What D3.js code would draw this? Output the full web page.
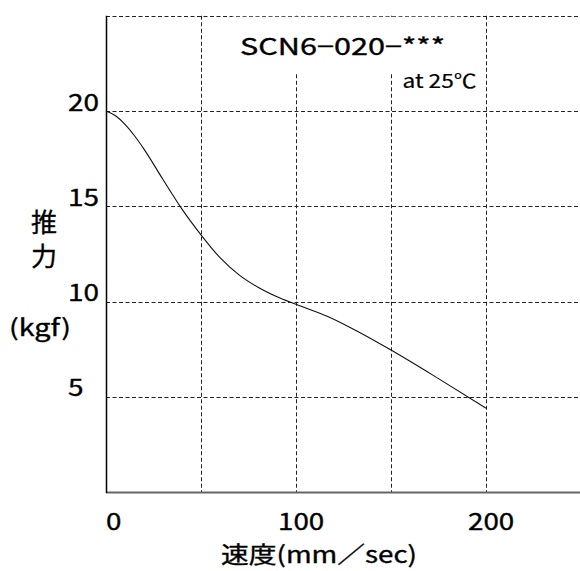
<!DOCTYPE html>
<html><head><meta charset="utf-8">
<script src="https://cdn.jsdelivr.net/npm/d3@7"></script>
<style>html,body{margin:0;padding:0;background:#fff;}svg{display:block;}</style>
</head><body>
<script>
const speed  = [0, 5, 10, 15, 20, 30, 40, 50, 60, 70, 80, 90, 100, 117, 133, 150, 175, 200];
const thrust = [20.0, 19.75, 19.3, 18.7, 18.0, 16.4, 14.85, 13.5, 12.3, 11.4, 10.75, 10.25, 9.85, 9.2, 8.4, 7.45, 5.95, 4.4];
const xTicks = [0, 50, 100, 150, 200, 250];
const xTickLabels = [0, 100, 200];
const yTicks = [5, 10, 15, 20, 25];
const yTickLabels = [5, 10, 15, 20];
const title = "SCN6−020−***";
const subtitle = "at 25℃";
const yLabel = ["推", "力"];
const yUnit = "(kgf)";
const xLabel = "速度(mm／sec)";

const W = 580, H = 571;
const FONT = "'Noto Sans CJK JP', 'Liberation Sans', sans-serif";
const svg = d3.select("body").append("svg").attr("width", W).attr("height", H);
const x = d3.scaleLinear().domain([0, 250]).range([106, 581]);
const y = d3.scaleLinear().domain([0, 25]).range([492, 15.75]);

const grid = svg.append("g").attr("stroke", "#222").attr("stroke-width", 1).attr("stroke-dasharray", "4,2.5").attr("fill", "none");
grid.selectAll(".v").data(xTicks.filter(d => d > 0)).join("line")
  .attr("x1", d => Math.round(x(d)) + 0.5).attr("x2", d => Math.round(x(d)) + 0.5)
  .attr("y1", y(25)).attr("y2", y(0));
grid.selectAll(".h").data(yTicks).join("line")
  .attr("y1", d => Math.round(y(d)) + 0.5).attr("y2", d => Math.round(y(d)) + 0.5)
  .attr("x1", x(0)).attr("x2", W);

// white title box masking the gridlines
svg.append("rect").attr("x", 232).attr("y", y(25) + 1).attr("width", 232).attr("height", 56).attr("fill", "#fff");

// axes
svg.append("line").attr("x1", x(0)).attr("x2", W).attr("y1", y(0) + 0.5).attr("y2", y(0) + 0.5)
  .attr("stroke", "#666").attr("stroke-width", 2);
svg.append("line").attr("x1", x(0) + 0.5).attr("x2", x(0) + 0.5).attr("y1", y(25)).attr("y2", y(0) + 1)
  .attr("stroke", "#000").attr("stroke-width", 1.5);

// curve
const line = d3.line().x((d, i) => x(speed[i])).y(d => y(d)).curve(d3.curveMonotoneX);
svg.append("path").attr("d", line(thrust)).attr("fill", "none").attr("stroke", "#111").attr("stroke-width", 1.1);

// tick labels
const txt = svg.append("g").attr("font-family", FONT).attr("fill", "#000")
  .attr("stroke", "#000").attr("stroke-width", 0.35);
txt.selectAll(".yl").data(yTickLabels).join("text")
  .attr("x", 68).attr("y", d => y(d) - 0.5).attr("font-size", 23)
  .attr("textLength", d => String(d).length * 15.5).attr("lengthAdjust", "spacingAndGlyphs")
  .text(d => d);
txt.selectAll(".xl").data(xTickLabels).join("text")
  .attr("x", d => x(d) - (d === 0 ? 0 : 18)).attr("y", 530).attr("font-size", 23)
  .attr("textLength", d => String(d).length * 15.4).attr("lengthAdjust", "spacingAndGlyphs")
  .text(d => d);

// title
txt.append("text").attr("x", 240).attr("y", 55).attr("font-size", 23.5)
  .attr("textLength", 205).attr("lengthAdjust", "spacingAndGlyphs").text(title);
txt.append("text").attr("x", 402.5).attr("y", 88).attr("font-size", 19).attr("stroke-width", 0.2)
  .attr("textLength", 74).attr("lengthAdjust", "spacingAndGlyphs").text(subtitle);

// y label
yLabel.forEach((c, i) => {
  txt.append("text").attr("x", 31).attr("y", 232 + i * 34).attr("font-size", 26).text(c);
});
txt.append("text").attr("x", 9).attr("y", 336).attr("font-size", 23)
  .attr("textLength", 62).attr("lengthAdjust", "spacingAndGlyphs").text(yUnit);

// x label
txt.append("text").attr("x", 221).attr("y", 563).attr("font-size", 23)
  .attr("textLength", 196).attr("lengthAdjust", "spacingAndGlyphs").text(xLabel);
</script>
</body></html>
